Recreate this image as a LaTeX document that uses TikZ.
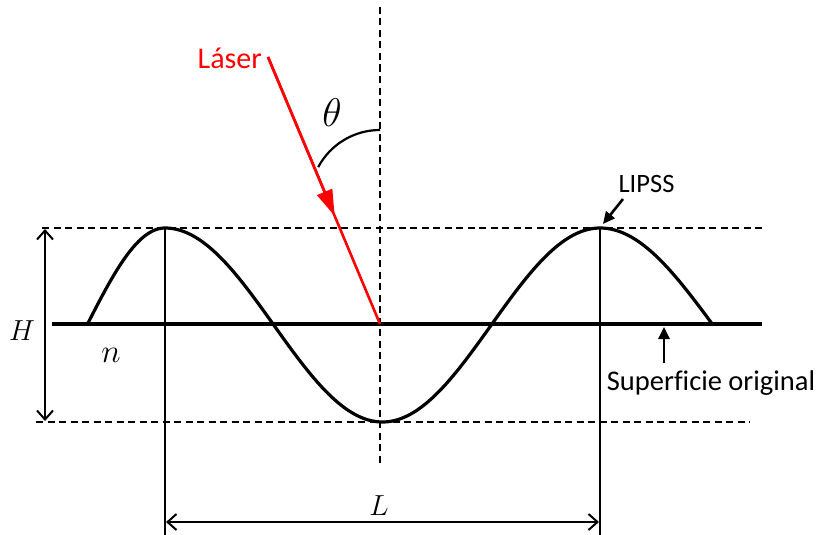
\documentclass[tikz,border=0pt]{standalone}
\usepackage{fix-cm}
\usepackage{fontspec}
\setmainfont[Ligatures=NoCommon]{Carlito}
\usetikzlibrary{arrows.meta,calc}
\definecolor{laserred}{RGB}{255,0,0}
\tikzset{
  wave/.style={line width=3.2pt, line join=round},
  guide/.style={line width=2.2pt, dash pattern=on 7pt off 4.5pt},
  thinline/.style={line width=1.3pt},
  dimarrow/.style={line width=2.4pt, {Straight Barb[length=9pt,width=16pt,line width=2pt]}-{Straight Barb[length=9pt,width=16pt,line width=2pt]}},
  pointer/.style={line width=2.6pt, -{Triangle[length=12pt,width=11pt]}},
  lbl/.style={inner sep=0pt, font=\fontsize{26.5}{30}\selectfont},
  mathlbl/.style={inner sep=0pt, font=\fontsize{29}{34}\selectfont},
}
\begin{document}
\begin{tikzpicture}[x=1pt,y=-1pt]
\useasboundingbox (0,0) rectangle (816,535);
% coordinates
\coordinate (vtop) at (380,7);
\coordinate (vbot) at (380,465);
\coordinate (o) at (380,324);
\coordinate (bl) at (52,324);
\coordinate (br) at (762,324);
\coordinate (tl) at (42,228);
\coordinate (tr) at (762,228);
\coordinate (dl) at (36,422);
\coordinate (dr) at (750,422);
\coordinate (p1) at (165,228);
\coordinate (p2) at (600,228);
\coordinate (p1b) at (165,535);
\coordinate (p2b) at (600,535);
\coordinate (las) at (268,57);
% guides
\draw[guide] (vtop) -- (vbot);
\draw[guide] (tl) -- (tr);
\draw[guide] (dl) -- (dr);
\draw[wave] (bl) -- (br);
\draw[thinline] (p1) -- (p1b);
\draw[thinline] (p2) -- (p2b);
% wave
\draw[wave] plot[domain=87:165, samples=40] (\x, {325-97*sin((\x-87)*1.153846)})
  -- plot[domain=165:600, samples=150] (\x, {325-97*cos((\x-165)*0.827586)})
  -- plot[domain=600:713, samples=40] (\x, {325-97*cos((\x-600)*0.79646)});
% laser
\draw[laserred, line width=2.6pt] (las) -- (o);
\draw[laserred, line width=2.6pt, -{Triangle[length=26pt,width=16pt]}] (las) -- ($(las)!0.595!(o)$);
\node[lbl, text=laserred, font=\fontsize{30}{34}\selectfont, anchor=base east] (laser) at (262,68) {Láser};
% angle
\draw[line width=2.2pt] ([shift={(208:70)}]380,200) arc[start angle=208, end angle=270, radius=70];
\node[mathlbl, font=\fontsize{40}{44}\selectfont] (theta) at (332,113) {$\theta$};
% dimension arrows
\coordinate (ht) at (45,229);
\coordinate (hb) at (45,421);
\draw[dimarrow] (ht) -- (hb);
\node[mathlbl] (H) at (22,331) {$H$};
\coordinate (la) at (166,522);
\coordinate (lb) at (599,522);
\draw[dimarrow] (la) -- (lb);
\node[mathlbl] (L) at (379,506) {$L$};
\node[mathlbl, font=\fontsize{33}{36}\selectfont] (n) at (111,355) {$n$};
% labels
\node[lbl] (lipss) at (646.5,183.5) {LIPSS};
\coordinate (lipsstip) at (603,224);
\draw[pointer] (623,199) -- (lipsstip);
\node[lbl, font=\fontsize{28.5}{32}\selectfont] (sup) at (711,383) {Superficie original};
\coordinate (suptip) at (664,327);
\draw[pointer] (664,363) -- (suptip);
\end{tikzpicture}
\end{document}
